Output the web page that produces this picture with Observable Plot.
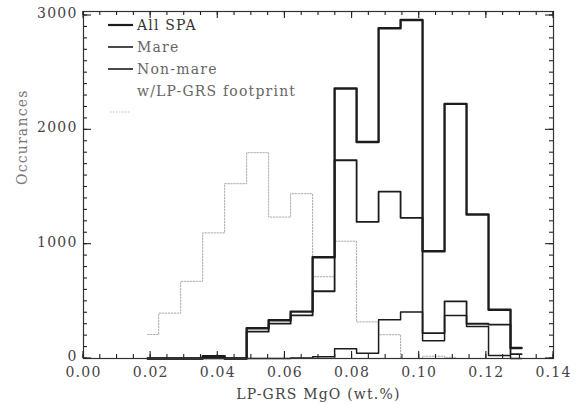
<!DOCTYPE html>
<html><head><meta charset="utf-8">
<script src="https://cdn.jsdelivr.net/npm/d3@7"></script>
<script src="https://cdn.jsdelivr.net/npm/@observablehq/plot@0.6"></script>
<style>
body{margin:0;background:#fff}
#chart{position:relative;width:576px;height:404px}
</style>
</head><body><div id="chart"></div>
<script>
// Bin centres (LP-GRS MgO, wt.%) and counts
const mgoBinCenters = [0.0191, 0.0257, 0.0322, 0.0388, 0.0453, 0.0519, 0.0584, 0.0650, 0.0715, 0.0781, 0.0846, 0.0912, 0.0977, 0.1043, 0.1108, 0.1174, 0.1239, 0.1305];
const allSPA    = [0, 0, 0, 20, 0, 265, 335, 410, 886, 2362, 1894, 2888, 2961, 938, 2227, 1260, 427, 92];
const nonMare   = [0, 0, 0, 10, 0, 235, 305, 377, 588, 1734, 1195, 1459, 1230, 222, 500, 304, 296, 38];
const mare      = [0, 0, 0, 0, 0, 0, 0, 5, 15, 85, 47, 339, 406, 155, 377, 280, 26, 0];
const footprint = [210, 397, 675, 1099, 1529, 1800, 1237, 1441, 715, 1026, 320, 208, 0, 20, 10];

const xTicks = [0, 0.02, 0.04, 0.06, 0.08, 0.10, 0.12, 0.14];
const xTickLabels = ["0.00", "0.02", "0.04", "0.06", "0.08", "0.10", "0.12", "0.14"];
const yTicks = [0, 1000, 2000, 3000];
const yTickLabels = ["0", "1000", "2000", "3000"];
const xMinorTicks = d3.range(0, 0.1401, 0.005);
const yMinorTicks = d3.range(0, 3001, 100);
const legendLabels = ["All SPA", "Mare", "Non-mare", "w/LP-GRS footprint"];
const xLabel = "LP-GRS MgO (wt.%)";
const yLabel = "Occurances";

const toRows = (vals) => vals.map((v, i) => ({x: mgoBinCenters[i], y: v}));

const font = "DejaVu Serif";
const ink = "#1c1c1c";
const textInk = "#444";
const axisInk = "#222";

const W = 576, H = 404, mL = 83, mR = 23, mT = 11, mB = 46;
const xDomain = [0, 0.14], yDomain = [0, 3035];

const chart = Plot.plot({
  width: W,
  height: H,
  marginLeft: mL,
  marginRight: mR,
  marginTop: mT,
  marginBottom: mB,
  x: {domain: xDomain, label: null},
  y: {domain: yDomain, label: null},
  style: {fontFamily: font, fontSize: "14px", color: textInk, background: "#fff", letterSpacing: "1.2px"},
  marks: [
    // histograms (IDL psym=10 style steps)
    Plot.line(toRows(footprint), {x: "x", y: "y", curve: "step", stroke: "#aaa", strokeWidth: 1, strokeDasharray: "1.5,1.5"}),
    Plot.line(toRows(mare), {x: "x", y: "y", curve: "step", stroke: ink, strokeWidth: 1.5}),
    Plot.line(toRows(nonMare), {x: "x", y: "y", curve: "step", stroke: ink, strokeWidth: 1.8}),
    Plot.line(toRows(allSPA), {x: "x", y: "y", curve: "step", stroke: ink, strokeWidth: 2.4}),
    Plot.frame({stroke: "#333", strokeWidth: 1.2}),
    // tick labels
    Plot.axisX({anchor: "bottom", ticks: xTicks, tickSize: 0, tickPadding: 9, tickFormat: d => xTickLabels[xTicks.indexOf(d)], label: null, fill: textInk}),
    Plot.axisY({anchor: "left", ticks: yTicks, tickSize: 0, tickPadding: 6, dy: -2, tickFormat: d => yTickLabels[yTicks.indexOf(d)], label: null, fill: textInk}),
    // axis titles
    Plot.text([xLabel], {text: d => d, frameAnchor: "bottom", dy: 40, lineAnchor: "bottom", fill: textInk}),
    Plot.text([yLabel], {text: d => d, frameAnchor: "left", dx: -61, rotate: -90, fill: "#777"})
  ]
});

document.getElementById("chart").appendChild(chart);

const svg = d3.select(chart);
// Inward ticks on all four sides, positioned with the plot's own scales
const sx = chart.scale("x"), sy = chart.scale("y");
const x0 = sx.apply(xDomain[0]), x1 = sx.apply(xDomain[1]);
const yb = sy.apply(yDomain[0]), yt = sy.apply(yDomain[1]);
const tg = svg.append("g").attr("stroke", axisInk).attr("stroke-width", 1.1);
const addX = (vals, len) => vals.forEach(v => {
  const px = sx.apply(v);
  tg.append("line").attr("x1", px).attr("x2", px).attr("y1", yb).attr("y2", yb - len);
  tg.append("line").attr("x1", px).attr("x2", px).attr("y1", yt).attr("y2", yt + len);
});
const addY = (vals, len) => vals.forEach(v => {
  const py = sy.apply(v);
  tg.append("line").attr("x1", x0).attr("x2", x0 + len).attr("y1", py).attr("y2", py);
  tg.append("line").attr("x1", x1).attr("x2", x1 - len).attr("y1", py).attr("y2", py);
});
addX(xMinorTicks, 4);
addX(xTicks, 7);
addY(yMinorTicks, 4);
addY(yTicks, 8);

// Legend (top-left corner of the frame)
const lg = svg.append("g").attr("font-family", font).attr("font-size", 14)
  .attr("letter-spacing", "1.2px").attr("text-anchor", "start");
const legendRows = [
  {label: legendLabels[0], y: 25, w: 2.2, t: "#333"},
  {label: legendLabels[1], y: 47, w: 1.6, t: "#666"},
  {label: legendLabels[2], y: 69, w: 1.6, t: "#666"}
];
legendRows.forEach(r => {
  lg.append("line").attr("x1", 108).attr("x2", 133).attr("y1", r.y).attr("y2", r.y)
    .attr("stroke", ink).attr("stroke-width", r.w);
  lg.append("text").attr("x", 137).attr("y", r.y).attr("dy", "0.36em").attr("fill", r.t).text(r.label);
});
lg.append("text").attr("x", 137).attr("y", 91).attr("dy", "0.36em").attr("fill", "#666").text(legendLabels[3]);
lg.append("line").attr("x1", 110).attr("x2", 131).attr("y1", 112).attr("y2", 112)
  .attr("stroke", "#bbb").attr("stroke-width", 1).attr("stroke-dasharray", "1.5,1.5");
</script>
</body></html>
